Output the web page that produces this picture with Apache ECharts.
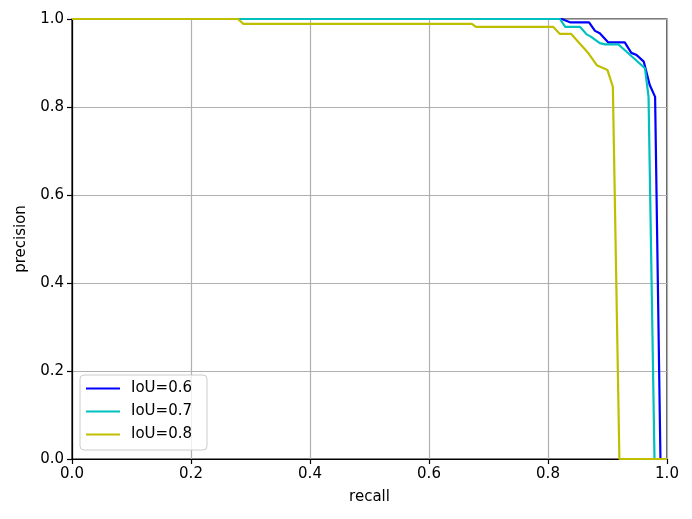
<!DOCTYPE html>
<html>
<head>
<meta charset="utf-8">
<script src="https://cdn.jsdelivr.net/npm/echarts@6/dist/echarts.min.js"></script>
<style>html,body{margin:0;padding:0;background:#fff}#c{width:692px;height:519px}</style>
</head>
<body>
<div id="c"></div>
<script>
const seriesNames = ['IoU=0.6', 'IoU=0.7', 'IoU=0.8'];
const recall06 = [0, 0.823, 0.837, 0.869, 0.879, 0.887, 0.901, 0.929, 0.940, 0.949, 0.961, 0.971, 0.980, 0.989, 1.0];
const precision06 = [1.0, 1.0, 0.9925, 0.9925, 0.973, 0.9675, 0.947, 0.947, 0.923, 0.918, 0.903, 0.85, 0.823, 0, 0];
const recall07 = [0, 0.820, 0.829, 0.854, 0.865, 0.872, 0.887, 0.896, 0.918, 0.963, 0.969, 0.979, 1.0];
const precision07 = [1.0, 1.0, 0.982, 0.982, 0.965, 0.96, 0.945, 0.9425, 0.9425, 0.888, 0.823, 0, 0];
const recall08 = [0, 0.279, 0.288, 0.672, 0.679, 0.809, 0.820, 0.839, 0.868, 0.882, 0.900, 0.909, 0.920, 1.0];
const precision08 = [1.0, 1.0, 0.989, 0.989, 0.982, 0.982, 0.966, 0.966, 0.922, 0.895, 0.884, 0.846, 0, 0];
const xTicks = [0, 0.2, 0.4, 0.6, 0.8, 1.0];
const yTicks = [0, 0.2, 0.4, 0.6, 0.8, 1.0];

const colors = ['#0000ff', '#00bfbf', '#bfbf00'];
const zip = (a, b) => a.map((v, i) => [v, b[i]]);
const FONT = 'DejaVu Sans';

const chart = echarts.init(document.getElementById('c'), null, {renderer: 'canvas'});
const axisCommon = (name, gap, rot) => ({
  type: 'value', min: 0, max: 1, interval: 0.2,
  name: name, nameLocation: 'middle', nameGap: gap, nameRotate: rot,
  nameTextStyle: {color: '#000', fontSize: 15, fontFamily: FONT},
  axisLine: {show: true, onZero: false, lineStyle: {color: '#000', width: 1.2}},
  axisTick: {show: true, inside: false, length: 5, lineStyle: {color: '#000', width: 1.2}},
  axisLabel: {color: '#000', fontSize: 15, fontFamily: FONT, margin: 8,
    formatter: v => v.toFixed(1)},
  splitLine: {show: true, lineStyle: {color: '#b0b0b0', width: 1.2}}
});
const option = {
  animation: false,
  backgroundColor: '#fff',
  grid: {left: 72, right: 25, top: 19, bottom: 60, show: true, borderColor: '#000', borderWidth: 1.2, containLabel: false},
  xAxis: axisCommon('recall', 31, 0),
  yAxis: axisCommon('precision', 43, 90),
  legend: {
    orient: 'vertical', left: 80, top: 375,
    backgroundColor: 'rgba(255,255,255,0.8)', borderColor: '#cccccc', borderWidth: 1, borderRadius: 4,
    padding: [6, 15, 8, 6], itemGap: 8, itemWidth: 34, itemHeight: 2.2, icon: 'rect',
    textStyle: {color: '#000', fontSize: 15, fontFamily: FONT, padding: [0, 0, 0, 6]},
    data: seriesNames
  },
  series: [
    {name: seriesNames[0], type: 'line', data: zip(recall06, precision06), symbol: 'none', color: colors[0], lineStyle: {width: 2.2, color: colors[0]}},
    {name: seriesNames[1], type: 'line', data: zip(recall07, precision07), symbol: 'none', color: colors[1], lineStyle: {width: 2.2, color: colors[1]}},
    {name: seriesNames[2], type: 'line', data: zip(recall08, precision08), symbol: 'none', color: colors[2], lineStyle: {width: 2.2, color: colors[2]}}
  ]
};
chart.setOption(option);
</script>
</body>
</html>
